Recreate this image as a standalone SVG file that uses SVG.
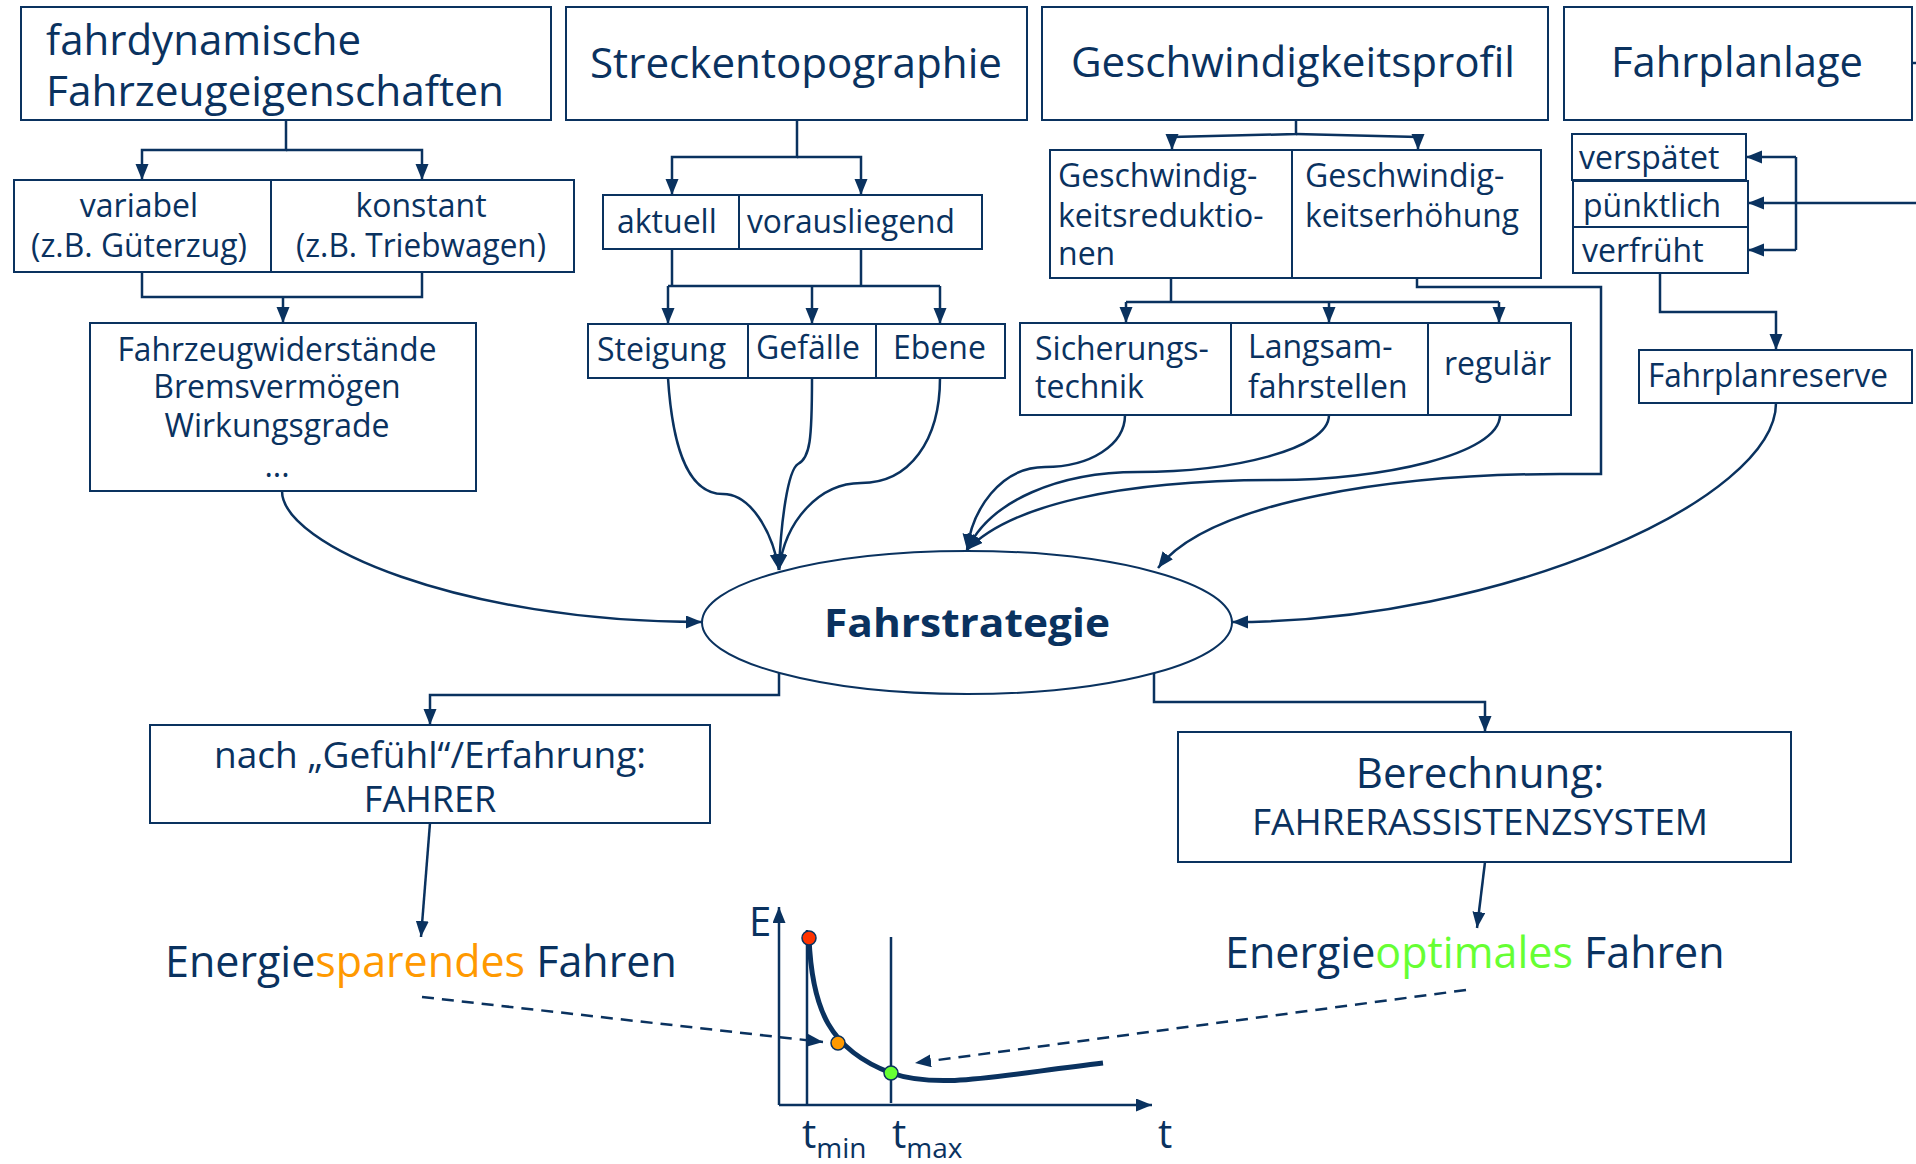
<svg xmlns="http://www.w3.org/2000/svg" width="1916" height="1164" viewBox="0 0 1916 1164">
<defs>
<style>
.box{fill:#fff;stroke:#0a325f;stroke-width:2}
.t{font-family:"Open Sans","Noto Sans","DejaVu Sans",sans-serif;fill:#0a325f}
.h{font-size:42px}
.m{font-size:32px}
.c{text-anchor:middle}
.ln{fill:none;stroke:#0a325f;stroke-width:2.5}
.ar{marker-end:url(#arr)}
.dash{fill:none;stroke:#0a325f;stroke-width:2.5;stroke-dasharray:12 8}
</style>
<marker id="arr" markerUnits="userSpaceOnUse" markerWidth="18" markerHeight="14" refX="16" refY="6.5" orient="auto">
<path d="M0,0 L16,6.5 L0,13 z" fill="#0a325f"/>
</marker>
</defs>
<rect width="1916" height="1164" fill="#fff"/>

<g id="connectors">
<path class="ln ar" d="M286,120 V150 H142 V180"/>
<path class="ln ar" d="M286,150 H422 V180"/>
<path class="ln" d="M142,272 V297 H422 V272"/>
<path class="ln ar" d="M283,297 V323"/>
<path class="ln ar" d="M797,120 V157 H672 V195"/>
<path class="ln ar" d="M797,157 H861 V195"/>
<path class="ln" d="M672,249 V286 M861,249 V286 M668,286 H940"/>
<path class="ln ar" d="M668,286 V324"/>
<path class="ln ar" d="M812,286 V324"/>
<path class="ln ar" d="M940,286 V324"/>
<path class="ln ar" d="M1296,120 V134 L1172,137 V150"/>
<path class="ln ar" d="M1296,134 L1418,137 V150"/>
<path class="ln" d="M1171,278 V302 M1126,302 H1499"/>
<path class="ln ar" d="M1126,302 V323"/>
<path class="ln ar" d="M1329,302 V323"/>
<path class="ln ar" d="M1499,302 V323"/>
<path class="ln ar" d="M1417,278 V287 H1601 V474 H1560 C1400,474 1210,500 1158,568"/>
<path class="ln ar" d="M1125,415 C1125,445 1090,467 1045,467 C1000,467 972,510 967,550"/>
<path class="ln ar" d="M1329,415 C1329,450 1230,472 1138,472 C1060,472 990,500 967,550"/>
<path class="ln ar" d="M1500,415 C1500,455 1380,480 1277,480 C1120,480 1010,505 967,550"/>
<path class="ln ar" d="M668,378 C672,440 685,494 723,494 C750,494 772,530 779,570"/>
<path class="ln ar" d="M812,378 C812,440 810,458 798,464 C788,470 781,520 779,570"/>
<path class="ln ar" d="M940,378 C940,440 910,483 861,483 C820,483 785,520 779,570"/>
<path class="ln ar" d="M282,491 C282,545 460,622 702,622"/>
<path class="ln ar" d="M1776,403 C1776,500 1500,622 1232,622"/>
<path class="ln" d="M1912,63 H1916"/>
<path class="ln ar" d="M1916,203 H1748"/>
<path class="ln" d="M1796,157 V250"/>
<path class="ln ar" d="M1796,157 H1746"/>
<path class="ln ar" d="M1796,250 H1748"/>
<path class="ln ar" d="M1660,273 V312 H1776 V350"/>
<path class="ln ar" d="M779,673 V695 H430 V725"/>
<path class="ln ar" d="M1154,673 V702 H1485 V732"/>
<path class="ln ar" d="M430,823 L421,937"/>
<path class="ln ar" d="M1485,862 L1477,928"/>
<path class="dash ar" d="M422,997 L823,1042"/>
<path class="dash ar" d="M1466,990 L915,1063"/>
</g>

<g id="n-fahrdynamik">
<rect class="box" x="21" y="7" width="530" height="113"/>
<text class="t h" x="46" y="55">fahrdynamische</text>
<text class="t h" x="46" y="106" textLength="458" lengthAdjust="spacingAndGlyphs">Fahrzeugeigenschaften</text>
</g>
<g id="n-strecke">
<rect class="box" x="566" y="7" width="461" height="113"/>
<text class="t h c" x="796" y="78" textLength="412" lengthAdjust="spacingAndGlyphs">Streckentopographie</text>
</g>
<g id="n-geschw">
<rect class="box" x="1042" y="7" width="506" height="113"/>
<text class="t h c" x="1293" y="77" textLength="444" lengthAdjust="spacingAndGlyphs">Geschwindigkeitsprofil</text>
</g>
<g id="n-fahrplan">
<rect class="box" x="1564" y="7" width="348" height="113"/>
<text class="t h c" x="1737" y="77" textLength="252" lengthAdjust="spacingAndGlyphs">Fahrplanlage</text>
</g>

<g id="n-variabel">
<rect class="box" x="14" y="180" width="257" height="92"/>
<text class="t m c" x="139" y="217">variabel</text>
<text class="t m c" x="139" y="257" textLength="216" lengthAdjust="spacingAndGlyphs">(z.B. Güterzug)</text>
</g>
<g id="n-konstant">
<rect class="box" x="271" y="180" width="303" height="92"/>
<text class="t m c" x="421" y="217">konstant</text>
<text class="t m c" x="421" y="257" textLength="250" lengthAdjust="spacingAndGlyphs">(z.B. Triebwagen)</text>
</g>
<g id="n-widerstaende">
<rect class="box" x="90" y="323" width="386" height="168"/>
<text class="t m c" x="277" y="361" textLength="319" lengthAdjust="spacingAndGlyphs">Fahrzeugwiderstände</text>
<text class="t m c" x="277" y="398">Bremsvermögen</text>
<text class="t m c" x="277" y="437">Wirkungsgrade</text>
<text class="t m c" x="277" y="477">...</text>
</g>

<g id="n-aktuell">
<rect class="box" x="603" y="195" width="136" height="54"/>
<text class="t m" x="617" y="233">aktuell</text>
</g>
<g id="n-voraus">
<rect class="box" x="739" y="195" width="243" height="54"/>
<text class="t m" x="747" y="233" textLength="208" lengthAdjust="spacingAndGlyphs">vorausliegend</text>
</g>
<g id="n-steigung">
<rect class="box" x="588" y="324" width="160" height="54"/>
<text class="t m" x="597" y="361">Steigung</text>
</g>
<g id="n-gefaelle">
<rect class="box" x="748" y="324" width="128" height="54"/>
<text class="t m" x="756" y="359">Gefälle</text>
</g>
<g id="n-ebene">
<rect class="box" x="876" y="324" width="129" height="54"/>
<text class="t m" x="893" y="359">Ebene</text>
</g>

<g id="n-reduktion">
<rect class="box" x="1050" y="150" width="242" height="128"/>
<text class="t m" x="1058" y="187">Geschwindig-</text>
<text class="t m" x="1058" y="227">keitsreduktio-</text>
<text class="t m" x="1058" y="265">nen</text>
</g>
<g id="n-erhoehung">
<rect class="box" x="1292" y="150" width="249" height="128"/>
<text class="t m" x="1305" y="187">Geschwindig-</text>
<text class="t m" x="1305" y="227" textLength="214" lengthAdjust="spacingAndGlyphs">keitserhöhung</text>
</g>
<g id="n-sicherung">
<rect class="box" x="1020" y="323" width="211" height="92"/>
<text class="t m" x="1035" y="360">Sicherungs-</text>
<text class="t m" x="1035" y="398">technik</text>
</g>
<g id="n-langsam">
<rect class="box" x="1231" y="323" width="197" height="92"/>
<text class="t m" x="1248" y="358">Langsam-</text>
<text class="t m" x="1248" y="398">fahrstellen</text>
</g>
<g id="n-regulaer">
<rect class="box" x="1428" y="323" width="143" height="92"/>
<text class="t m" x="1444" y="375">regulär</text>
</g>

<g id="n-verspaetet">
<rect class="box" x="1572" y="134" width="174" height="46"/>
<text class="t m" x="1579" y="169">verspätet</text>
</g>
<g id="n-puenktlich">
<rect class="box" x="1573" y="181" width="175" height="46"/>
<text class="t m" x="1583" y="217">pünktlich</text>
</g>
<g id="n-verfrueht">
<rect class="box" x="1573" y="227" width="175" height="46"/>
<text class="t m" x="1582" y="262">verfrüht</text>
</g>
<g id="n-reserve">
<rect class="box" x="1639" y="350" width="273" height="53"/>
<text class="t m" x="1648" y="387" textLength="240" lengthAdjust="spacingAndGlyphs">Fahrplanreserve</text>
</g>

<g id="n-fahrstrategie">
<ellipse cx="967" cy="622.5" rx="265" ry="71.5" fill="#fff" stroke="#0a325f" stroke-width="2"/>
<text class="t c" x="967" y="637" font-size="40" font-weight="bold" textLength="286" lengthAdjust="spacingAndGlyphs">Fahrstrategie</text>
</g>

<g id="n-fahrer">
<rect class="box" x="150" y="725" width="560" height="98"/>
<text class="t c" x="430" y="768" font-size="36" textLength="432" lengthAdjust="spacingAndGlyphs">nach „Gefühl“/Erfahrung:</text>
<text class="t c" x="430" y="812" font-size="36">FAHRER</text>
</g>
<g id="n-berechnung">
<rect class="box" x="1178" y="732" width="613" height="130"/>
<text class="t h c" x="1480" y="788">Berechnung:</text>
<text class="t c" x="1480" y="835" font-size="37" textLength="456" lengthAdjust="spacingAndGlyphs">FAHRERASSISTENZSYSTEM</text>
</g>

<g id="n-sparend">
<text class="t" x="165" y="977" font-size="43">Energie<tspan fill="#ff9900">sparendes</tspan> Fahren</text>
</g>
<g id="n-optimal">
<text class="t" x="1225" y="968" font-size="43">Energie<tspan fill="#66ff33">optimales</tspan> Fahren</text>
</g>

<g id="n-graph">
<path class="ln ar" d="M779,1105 V907"/>
<path class="ln ar" d="M779,1105 H1152"/>
<path class="ln" d="M807,930 V1105 M891,937 V1103"/>
<path d="M809,938 C812,1010 830,1050 891,1073 C940,1090 1000,1075 1103,1063" fill="none" stroke="#0a325f" stroke-width="5"/>
<circle cx="809" cy="938" r="7" fill="#ff3300" stroke="#0a325f" stroke-width="1.5"/>
<circle cx="838" cy="1043" r="7" fill="#ff9900" stroke="#0a325f" stroke-width="1.5"/>
<circle cx="891" cy="1073" r="7" fill="#66ff33" stroke="#0a325f" stroke-width="1.5"/>
<text class="t" x="749" y="936" font-size="40">E</text>
<text class="t" x="802" y="1148" font-size="40">t<tspan font-size="28" dy="10">min</tspan></text>
<text class="t" x="892" y="1148" font-size="40">t<tspan font-size="28" dy="10">max</tspan></text>
<text class="t" x="1158" y="1148" font-size="40">t</text>
</g>
</svg>
